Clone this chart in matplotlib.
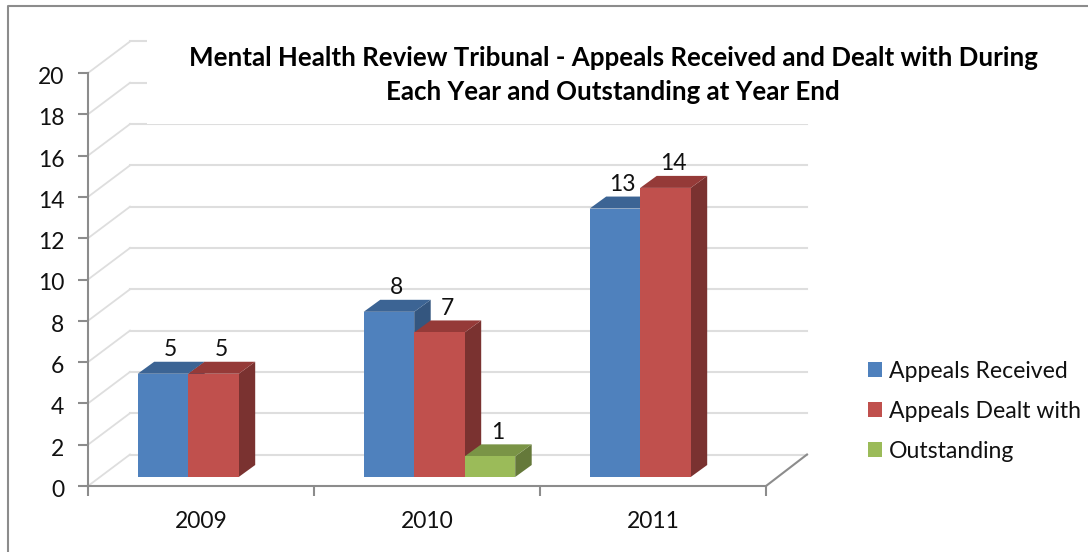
import matplotlib
matplotlib.use('Agg')
import matplotlib.pyplot as plt
from matplotlib.patches import Patch, Polygon, Rectangle
from matplotlib.transforms import ScaledTranslation

plt.rcParams['font.family'] = ['Lato', 'DejaVu Sans']

years = ['2009', '2010', '2011']
series_names = ['Appeals Received', 'Appeals Dealt with', 'Outstanding']
received = [5, 8, 13]
dealt = [5, 7, 14]
outstanding = [0, 1, 0]
y_ticks = list(range(0, 21, 2))

front = ['#4F81BD', '#C0504D', '#9BBB59']
top = ['#3C6494', '#953A38', '#7A9446']
side = ['#34567F', '#7A3230', '#65793A']

W, H = 1088, 552
fig = plt.figure(figsize=(W / 100, H / 100), dpi=100)
# 正面坐标轴 88..766 px, 73..486 px
ax = fig.add_axes([88 / W, 1 - 486 / H, 678 / W, 413 / H])
ax.set_xlim(0, 3)
ax.set_ylim(0, 20)
ax.patch.set_alpha(0)
ux = 3 / 678  # 一个像素对应的数据宽度
uy = 20 / 413


def off(x, y, px, py):
    return (x + px * ux, y + py * uy)


# 外框
fig.add_artist(plt.Line2D([8 / W, 8 / W, 1], [0, 1 - 6 / H, 1 - 6 / H], color='#8C8C8C', lw=1.5))

# 网格线(三维透视)
grid = '#DEDEDE'
for v in y_ticks:
    p0 = (0, v)
    p1 = off(0, v, 42, 31.5)
    p2 = off(3, v, 41, 31.5)
    ax.plot([p0[0], p1[0]], [p0[1], p1[1]], color=grid, lw=1.3, clip_on=False, zorder=1)
    ax.plot([p1[0], p2[0]], [p1[1], p2[1]], color=grid, lw=1.5, clip_on=False, zorder=1)

# 标题挡住上面的网格线
fig.add_artist(Rectangle((147 / W, 1 - 124.25 / H), 900 / W, 100 / H, transform=fig.transFigure,
                         facecolor='white', edgecolor='none', zorder=1.5))

# 底面右侧边
p = off(3, 0, 41, 31.5)
ax.plot([3, p[0]], [0, p[1]], color='#8C8C8C', lw=1.5, clip_on=False, zorder=2)

bar_w = 50.5 * ux
depth_x, depth_y = 16.5, 12


def bar3d(x, v, i):
    x0, y0 = off(x, 0, 12, 9)
    x1 = x0 + bar_w
    y1 = y0 + v
    ax.add_patch(Polygon([(x1, y0), off(x1, y0, depth_x, depth_y), off(x1, y1, depth_x, depth_y), (x1, y1)],
                         closed=True, fc=side[i], ec='none', clip_on=False, zorder=3 + i * 0.1))
    ax.add_patch(Polygon([(x0, y1), (x1, y1), off(x1, y1, depth_x, depth_y), off(x0, y1, depth_x, depth_y)],
                         closed=True, fc=top[i], ec='none', clip_on=False, zorder=3 + i * 0.1))
    ax.add_patch(Polygon([(x0, y0), (x1, y0), (x1, y1), (x0, y1)],
                         closed=True, fc=front[i], ec='none', clip_on=False, zorder=3 + i * 0.1))
    tx, ty = off(x0 + bar_w / 2, y1, 7.5, 24)
    ax.text(tx, ty, str(v), ha='center', va='center', fontsize=16.5, color='#111111', zorder=6, clip_on=False)


for c in range(len(years)):
    for i, vals in enumerate([received, dealt, outstanding]):
        if vals[c] > 0:
            bar3d(c + 37.7 * ux + i * bar_w, vals[c], i)

# 坐标轴
for s in ['top', 'right']:
    ax.spines[s].set_visible(False)
for s in ['left', 'bottom']:
    ax.spines[s].set_color('#8C8C8C')
    ax.spines[s].set_linewidth(1.5)
    ax.spines[s].set_zorder(2)
ax.set_yticks(y_ticks)
ax.set_xticks([0, 1, 2, 3])
ax.set_xticklabels([])
ax.set_xticks([0.5, 1.5, 2.5], labels=years, minor=True)
ax.tick_params(axis='both', which='major', color='#8C8C8C', width=1.5, length=7, labelsize=16.5, labelcolor='#111111')
ax.tick_params(axis='y', which='major', pad=10)
ax.tick_params(axis='x', which='minor', length=0, labelsize=16.5, labelcolor='#111111', pad=18)
# y轴标签往下挪一点
down = ScaledTranslation(0, -2.5 / 100, fig.dpi_scale_trans)
for lb in ax.get_yticklabels():
    lb.set_transform(lb.get_transform() + down)

fig.text(613 / W, 1 - 58 / H, 'Mental Health Review Tribunal - Appeals Received and Dealt with During',
         ha='center', va='center', fontsize=18.6, fontweight='bold', color='black', zorder=5)
fig.text(613 / W, 1 - 92 / H, 'Each Year and Outstanding at Year End',
         ha='center', va='center', fontsize=18.6, fontweight='bold', color='black', zorder=5)

handles = [Patch(facecolor=c, edgecolor='none') for c in front]
fig.legend(handles, series_names, loc='upper left', bbox_to_anchor=(863.4 / W, 1 - 356 / H), frameon=False,
           fontsize=16.6, handlelength=0.6, handleheight=0.6, handletextpad=0.3, labelspacing=0.83,
           labelcolor='#111111', borderpad=0.2, borderaxespad=0)

fig.savefig('out.png', dpi=100)
